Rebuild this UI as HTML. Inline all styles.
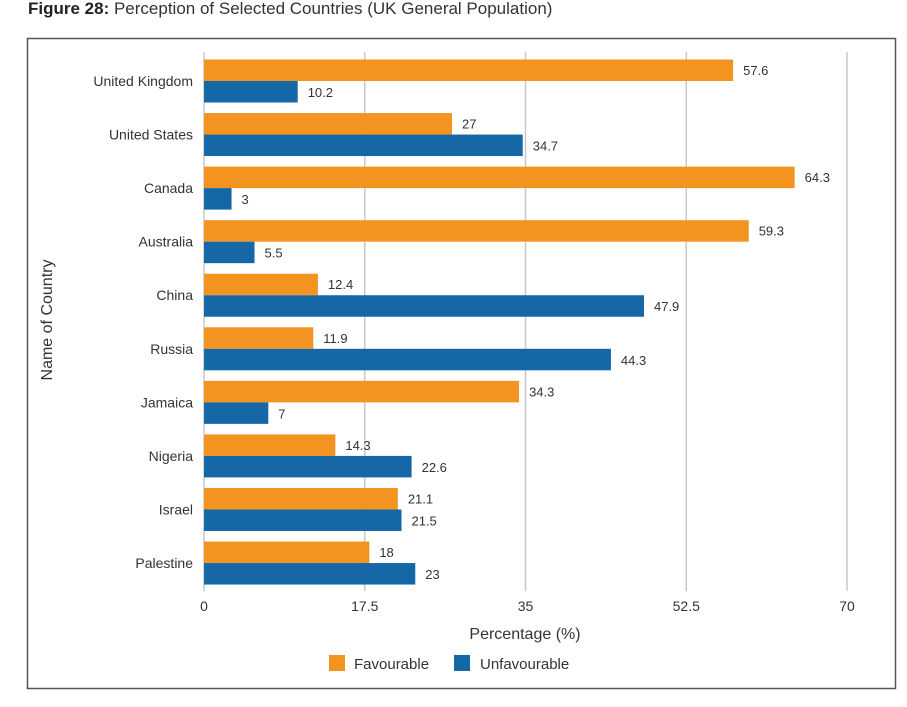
<!DOCTYPE html>
<html><head><meta charset="utf-8"><style>
body{margin:0;background:#fff;font-family:"Liberation Sans",sans-serif;}
svg text{font-family:"Liberation Sans",sans-serif;fill:#333;}
</style></head><body>
<svg width="907" height="702">
<text x="28" y="14" font-size="17"><tspan font-weight="bold" fill="#222">Figure 28:</tspan> Perception of Selected Countries (UK General Population)</text>
<rect x="27.5" y="38.5" width="868" height="650" fill="none" stroke="#555" stroke-width="1.5"/>
<g id="grid"></g><g id="bars"></g><g id="labels"></g>
<text x="525" y="639" font-size="16" text-anchor="middle">Percentage (%)</text>
<text transform="translate(52,320) rotate(-90)" font-size="16" text-anchor="middle">Name of Country</text>
<rect x="329" y="655" width="16" height="16" fill="#F39320"/>
<text x="354" y="669" font-size="15">Favourable</text>
<rect x="454" y="655" width="16" height="16" fill="#1567A6"/>
<text x="480" y="669" font-size="15">Unfavourable</text>
</svg>
<script>
const categories=["United Kingdom","United States","Canada","Australia","China","Russia","Jamaica","Nigeria","Israel","Palestine"];
const favourable=[57.6,27,64.3,59.3,12.4,11.9,34.3,14.3,21.1,18];
const unfavourable=[10.2,34.7,3,5.5,47.9,44.3,7,22.6,21.5,23];
const ticks=[0,17.5,35,52.5,70];
const NS="http://www.w3.org/2000/svg";
const x=v=>204+v*(643/70);
const yc=i=>81+i*53.56;
function mk(tag,attrs,parent,txt){const e=document.createElementNS(NS,tag);for(const k in attrs)e.setAttribute(k,attrs[k]);if(txt!==undefined)e.textContent=txt;document.getElementById(parent).appendChild(e);return e;}
ticks.forEach(t=>{
 const l=mk('line',{x1:x(t),x2:x(t),y1:52,y2:591,stroke:'#c8c8c8','stroke-width':1.5},'grid');
 
 
 const tx=mk('text',{x:x(t),y:611,'font-size':14,'text-anchor':'middle'},'labels',String(t));
 
 
});
categories.forEach((c,i)=>{
 const cl=mk('text',{x:193,y:yc(i)+5,'font-size':14,'text-anchor':'end'},'labels',c);
 
 
 const b1=mk('rect',{x:x(0),y:yc(i)-21.5,width:x(favourable[i])-x(0),height:21.5,fill:'#F39320'},'bars');
 
 
 const b2=mk('rect',{x:x(0),y:yc(i),width:x(unfavourable[i])-x(0),height:21.5,fill:'#1567A6'},'bars');
 
 
 const v1=mk('text',{x:x(favourable[i])+10,y:yc(i)-6,'font-size':13},'labels',String(favourable[i]));
 
 
 const v2=mk('text',{x:x(unfavourable[i])+10,y:yc(i)+16,'font-size':13},'labels',String(unfavourable[i]));
 
 
});
</script>
</body></html>
